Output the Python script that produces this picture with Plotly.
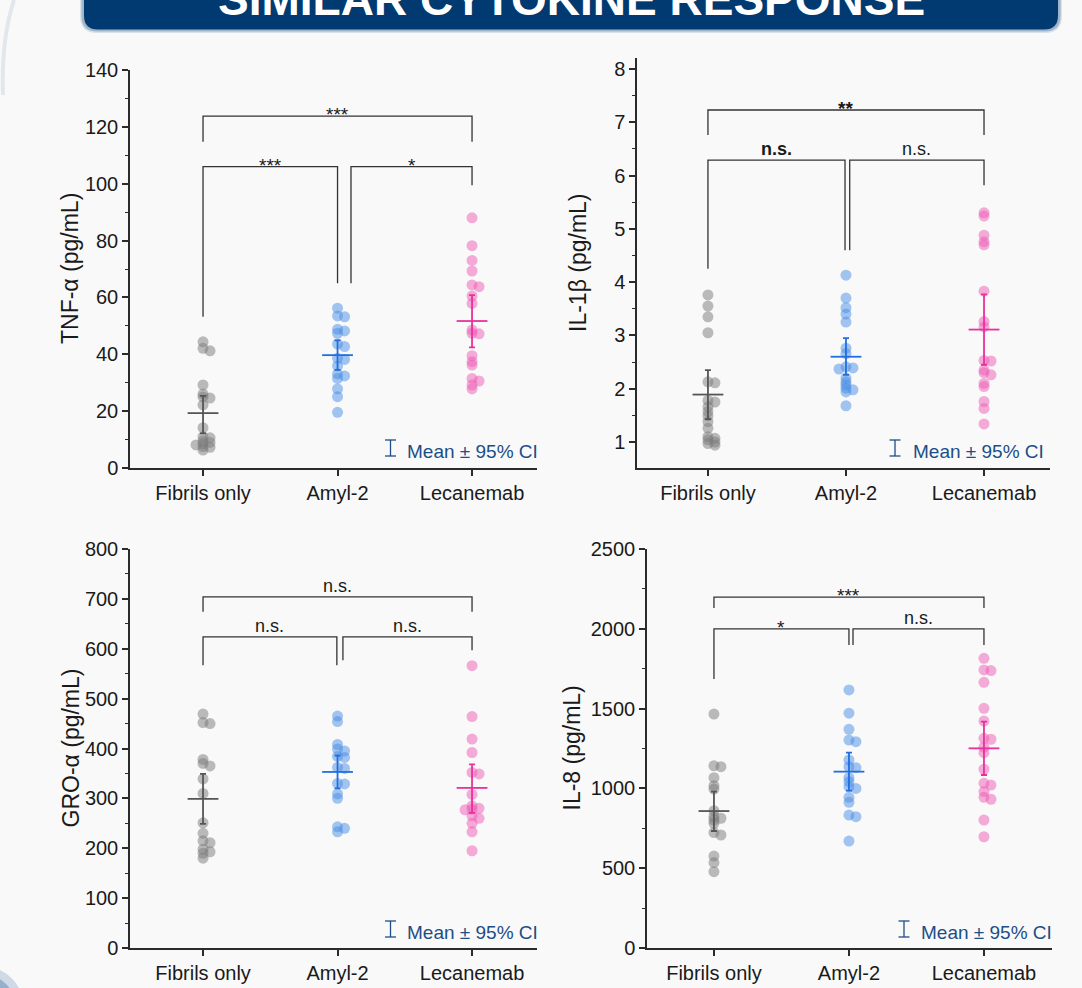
import plotly.graph_objects as go

W, H = 1082, 988

# ---------------- data ----------------
categories = ["Fibrils only", "Amyl-2", "Lecanemab"]

tnf_fibrils = [44.4, 42.1, 41.2, 29.2, 26.0, 25.0, 24.6, 22.2, 14.2, 11.0, 10.6, 9.5, 9.0, 8.5, 8.1, 7.5, 7.3, 6.3]
tnf_amyl = [56.2, 53.5, 53.2, 48.8, 48.2, 47.4, 43.6, 42.7, 38.6, 38.2, 35.9, 33.1, 32.4, 31.5, 27.8, 25.1, 19.6]
tnf_lec = [88.0, 78.2, 73.0, 69.3, 64.4, 63.8, 60.5, 57.9, 48.5, 47.4, 47.2, 39.5, 37.4, 36.2, 31.5, 30.6, 29.2, 27.8]
tnf_mean = [19.3, 39.7, 51.7]
tnf_ci_lo = [12.2, 34.5, 42.4]
tnf_ci_hi = [25.4, 44.9, 60.8]
tnf_sig = ["***", "***", "*"]  # Fibrils vs Lecanemab, Fibrils vs Amyl-2, Amyl-2 vs Lecanemab

il1b_fibrils = [3.76, 3.55, 3.35, 3.05, 2.13, 2.11, 1.78, 1.75, 1.66, 1.57, 1.49, 1.38, 1.26, 1.10, 1.07, 1.04, 1.00, 0.97, 0.94]
il1b_amyl = [4.13, 3.70, 3.52, 3.40, 3.25, 2.76, 2.66, 2.41, 2.39, 2.37, 2.20, 2.13, 2.07, 2.01, 1.98, 1.94, 1.68]
il1b_lec = [5.30, 5.24, 4.88, 4.76, 4.70, 3.83, 3.26, 3.16, 2.53, 2.52, 2.35, 2.30, 2.26, 2.10, 2.04, 1.76, 1.63, 1.34]
il1b_mean = [1.89, 2.60, 3.11]
il1b_ci_lo = [1.43, 2.26, 2.45]
il1b_ci_hi = [2.35, 2.95, 3.77]
il1b_sig = ["**", "n.s.", "n.s."]

gro_fibrils = [469, 452, 450, 378, 370, 365, 339, 310, 251, 230, 215, 211, 198, 193, 190, 180]
gro_amyl = [465, 454, 408, 399, 395, 384, 382, 362, 360, 330, 329, 309, 300, 243, 240, 233]
gro_lec = [566, 464, 419, 392, 352, 349, 308, 285, 280, 278, 277, 265, 260, 250, 233, 195]
gro_mean = [299, 353, 321]
gro_ci_lo = [249, 320, 271]
gro_ci_hi = [349, 386, 368]
gro_sig = ["n.s.", "n.s.", "n.s."]

il8_fibrils = [1466, 1142, 1136, 1067, 1017, 996, 860, 823, 813, 802, 781, 723, 708, 576, 535, 478]
il8_amyl = [1617, 1471, 1370, 1303, 1293, 1178, 1136, 1130, 1067, 1042, 1011, 1000, 944, 913, 833, 823, 670]
il8_lec = [1815, 1742, 1738, 1665, 1502, 1422, 1314, 1308, 1258, 1224, 1120, 1032, 1021, 980, 944, 932, 802, 697]
il8_mean = [858, 1105, 1251]
il8_ci_lo = [733, 986, 1084]
il8_ci_hi = [980, 1224, 1418]
il8_sig = ["***", "*", "n.s."]

# ---------------- styling / layout ----------------
FONT = "Liberation Sans, Arial, sans-serif"
BG = "#f9f9f9"
AX = "#2b2b2b"
PT_COLORS = ["#7a7a7a", "#4a8ee6", "#ee5cb6"]
MEAN_COLORS = ["#555555", "#1f6fe0", "#e8319c"]
LEG_COLOR = "#1c4e88"


def xp(px):
    return px / W


def yp(py):
    return 1 - py / H


panels = [
    dict(title="TNF-α (pg/mL)", groups=(tnf_fibrils, tnf_amyl, tnf_lec), mean=tnf_mean,
         lo=tnf_ci_lo, hi=tnf_ci_hi, sig=tnf_sig,
         px=(130, 537), py=(70, 468), yrange=(0, 140), dtick=20, minor=10, xrange=(-0.543, 2.483),
         brackets=[(0, 2, 123.8, 114.8, 114.8), (0, 1.0, 106, 53.2, 65), (1.1, 2, 106, 65, 99.5)],
         sig_bold=[False, False, False], title_x=70, icon=(390.5, 440, 456), text=(405, 451)),
    dict(title="IL-1β (pg/mL)", groups=(il1b_fibrils, il1b_amyl, il1b_lec), mean=il1b_mean,
         lo=il1b_ci_lo, hi=il1b_ci_hi, sig=il1b_sig,
         px=(637, 1050), py=(58, 468), yrange=(0.512, 8.206), dtick=1, minor=0.5, xrange=(-0.514, 2.478),
         brackets=[(0, 2, 7.23, 6.76, 6.76), (0, 0.993, 6.29, 4.25, 4.60), (1.027, 2, 6.29, 4.60, 5.82)],
         sig_bold=[True, True, False], title_x=578, icon=(895, 440, 456), text=(911, 451)),
    dict(title="GRO-α (pg/mL)", groups=(gro_fibrils, gro_amyl, gro_lec), mean=gro_mean,
         lo=gro_ci_lo, hi=gro_ci_hi, sig=gro_sig,
         px=(130, 537), py=(549, 948), yrange=(0, 800), dtick=100, minor=50, xrange=(-0.543, 2.483),
         brackets=[(0, 2, 704, 674, 674), (0, 0.995, 624, 567, 567), (1.04, 2, 624, 577, 597)],
         sig_bold=[False, False, False], title_x=70, icon=(390.5, 921, 937), text=(405, 932)),
    dict(title="IL-8 (pg/mL)", groups=(il8_fibrils, il8_amyl, il8_lec), mean=il8_mean,
         lo=il8_ci_lo, hi=il8_ci_hi, sig=il8_sig,
         px=(647, 1052), py=(549, 948), yrange=(0, 2500), dtick=500, minor=250, xrange=(-0.496, 2.504),
         brackets=[(0, 2, 2199, 2130, 2130), (0, 1.0, 1999, 1686, 1899), (1.03, 2, 1999, 1899, 1899)],
         sig_bold=[False, False, False], title_x=571, icon=(904, 921, 937), text=(919, 932)),
]


def swarm(vals, ppu_y, ppu_x, min_d=2.6, step=7.0):
    placed = []
    offs = []
    for v in vals:
        y = v * ppu_y
        cands = [0]
        for i in range(1, 6):
            cands += [i, -i]
        chosen = 0
        for c in cands:
            dx = c * step
            if all(((dx - px_) ** 2 + (y - py_) ** 2) ** 0.5 >= min_d for px_, py_ in placed):
                chosen = dx
                break
        placed.append((chosen, y))
        offs.append(chosen / ppu_x)
    return offs


fig = go.Figure()
shapes = []
annotations = []
layout_axes = {}

for i, p in enumerate(panels):
    n = "" if i == 0 else str(i + 1)
    xa, ya = "x" + n, "y" + n
    px0, px1 = p["px"]
    py0, py1 = p["py"]
    ppu_y = (py1 - py0) / (p["yrange"][1] - p["yrange"][0])
    ppu_x = (px1 - px0) / (p["xrange"][1] - p["xrange"][0])

    for g, vals in enumerate(p["groups"]):
        offs = swarm(vals, ppu_y, ppu_x)
        fig.add_trace(go.Scatter(
            x=[g + o for o in offs], y=vals, mode="markers", xaxis=xa, yaxis=ya,
            marker=dict(size=11, color=PT_COLORS[g], opacity=0.5, line=dict(width=0)),
            showlegend=False, hoverinfo="y"))
    for g in range(3):
        fig.add_trace(go.Scatter(
            x=[g], y=[p["mean"][g]], mode="markers", xaxis=xa, yaxis=ya,
            marker=dict(symbol="line-ew", size=22, line=dict(width=1.8, color=MEAN_COLORS[g]),
                        color=MEAN_COLORS[g]),
            error_y=dict(type="data", symmetric=False,
                         array=[p["hi"][g] - p["mean"][g]],
                         arrayminus=[p["mean"][g] - p["lo"][g]],
                         color=MEAN_COLORS[g], thickness=1.8, width=3),
            showlegend=False, hoverinfo="y"))

    layout_axes["xaxis" + n] = dict(
        domain=[xp(px0), xp(px1)], range=list(p["xrange"]), anchor=ya, automargin=False,
        tickmode="array", tickvals=[0, 1, 2], ticktext=categories,
        showline=True, linecolor=AX, linewidth=1.5, ticks="outside", ticklen=6, tickwidth=1.5,
        tickcolor=AX, showgrid=False, zeroline=False,
        tickfont=dict(family=FONT, size=20, color="#1a1a1a"), fixedrange=True)
    layout_axes["yaxis" + n] = dict(
        domain=[yp(py1), yp(py0)], range=list(p["yrange"]), anchor=xa, automargin=False,
        dtick=p["dtick"], tick0=0, showline=True, linecolor=AX, linewidth=1.5,
        ticks="outside", ticklen=6, tickwidth=1.5, tickcolor=AX,
        minor=dict(dtick=p["minor"], tick0=0, ticks="outside", ticklen=3.5, tickwidth=1.2, tickcolor=AX),
        showgrid=False, zeroline=False,
        tickfont=dict(family=FONT, size=20, color="#1a1a1a"), fixedrange=True)

    # axis title
    annotations.append(dict(
        text=p["title"], x=xp(p["title_x"]), y=yp((py0 + py1) / 2), xref="paper", yref="paper",
        textangle=-90, showarrow=False, xanchor="center", yanchor="middle",
        font=dict(family=FONT, size=23, color="#1a1a1a")))

    # significance brackets
    for b, (x0, x1, yb, yl0, yl1) in enumerate(p["brackets"]):
        shapes.append(dict(type="path", xref=xa, yref=ya,
                           path=f"M {x0},{yl0} L {x0},{yb} L {x1},{yb} L {x1},{yl1}",
                           line=dict(color="#333333", width=1.3)))
        lab = p["sig"][b]
        star = "*" in lab
        txt = f"<b>{lab}</b>" if p["sig_bold"][b] else lab
        annotations.append(dict(
            text=txt, x=(x0 + x1) / 2, y=yb, xref=xa, yref=ya, showarrow=False,
            xanchor="center", yanchor="bottom", yshift=-11 if star else -1,
            font=dict(family=FONT, size=19 if star else 18, color="#1a1a1a")))

    # "Mean ± 95% CI" key
    ix, iy0, iy1 = p["icon"]
    for path in (f"M {xp(ix)},{yp(iy0)} L {xp(ix)},{yp(iy1)}",
                 f"M {xp(ix - 5.5)},{yp(iy0)} L {xp(ix + 5.5)},{yp(iy0)}",
                 f"M {xp(ix - 5.5)},{yp(iy1)} L {xp(ix + 5.5)},{yp(iy1)}"):
        shapes.append(dict(type="path", xref="paper", yref="paper", path=path,
                           line=dict(color=LEG_COLOR, width=1.3)))
    tx, ty = p["text"]
    annotations.append(dict(
        text="Mean ± 95% CI", x=xp(tx), y=yp(ty), xref="paper", yref="paper", showarrow=False,
        xanchor="left", yanchor="middle", font=dict(family=FONT, size=19, color=LEG_COLOR)))


# ---------------- slide decorations: header banner ----------------
def rrect(x0, y0, x1, y1, r):
    return (f"M {xp(x0 + r)},{yp(y0)} L {xp(x1 - r)},{yp(y0)} "
            f"Q {xp(x1)},{yp(y0)} {xp(x1)},{yp(y0 + r)} L {xp(x1)},{yp(y1 - r)} "
            f"Q {xp(x1)},{yp(y1)} {xp(x1 - r)},{yp(y1)} L {xp(x0 + r)},{yp(y1)} "
            f"Q {xp(x0)},{yp(y1)} {xp(x0)},{yp(y1 - r)} L {xp(x0)},{yp(y0 + r)} "
            f"Q {xp(x0)},{yp(y0)} {xp(x0 + r)},{yp(y0)} Z")


banner = []
for grow, op in ((3, 0.15), (1.5, 0.3)):
    banner.append(dict(type="path", xref="paper", yref="paper", layer="below",
                       path=rrect(83 - grow, -30, 1059 + grow, 30 + grow, 14 + grow),
                       fillcolor="#1d4f86", opacity=op, line=dict(width=0)))
banner.append(dict(type="path", xref="paper", yref="paper", layer="below",
                   path=rrect(84, -30, 1058, 29.5, 14),
                   fillcolor="#003a70", line=dict(width=0)))
# soft blue blob at the bottom-left corner of the slide
for r, op in ((42, 0.2), (34, 0.35), (26, 0.55), (18, 0.75)):
    banner.append(dict(type="circle", xref="paper", yref="paper", layer="below",
                       x0=xp(-18 - r), x1=xp(-18 + r), y0=yp(1008 + r), y1=yp(1008 - r),
                       fillcolor="#2c5e99", opacity=op, line=dict(width=0)))
# faint arc at the top-left edge
banner.append(dict(type="path", xref="paper", yref="paper", layer="below",
                   path=f"M {xp(14)},{yp(0)} Q {xp(1)},{yp(40)} {xp(3)},{yp(95)}",
                   line=dict(color="#e2e7ee", width=4)))

annotations.append(dict(
    text="<b>SIMILAR CYTOKINE RESPONSE</b>", x=xp(571), y=yp(6), xref="paper", yref="paper",
    showarrow=False, xanchor="center", yanchor="bottom", yshift=-21,
    font=dict(family=FONT, size=46, color="white")))

fig.update_layout(
    template="none",
    width=W, height=H, margin=dict(l=0, r=0, t=0, b=0, pad=0), autosize=False,
    paper_bgcolor=BG, plot_bgcolor="rgba(0,0,0,0)",
    showlegend=False, shapes=banner + shapes, annotations=annotations,
    **layout_axes)

fig.write_html("out.html", config={"displayModeBar": False})
